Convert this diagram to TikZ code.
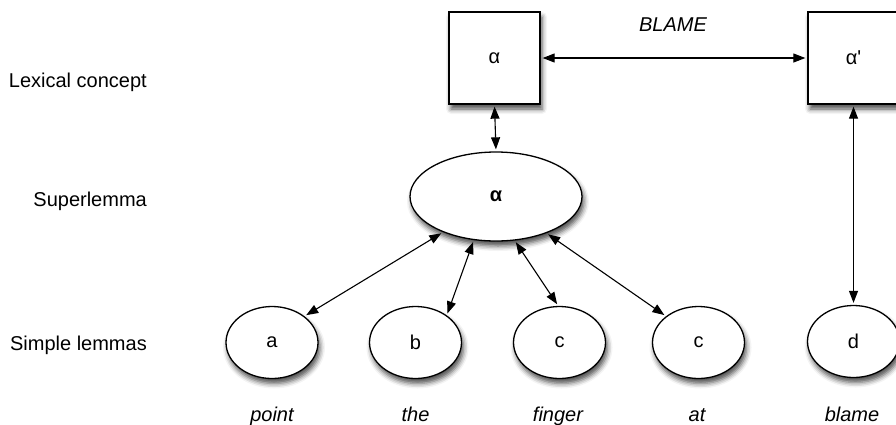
\documentclass[tikz,border=0pt]{standalone}
\usepackage{fontspec}
\setmainfont{Liberation Sans}
\usetikzlibrary{arrows.meta,shapes.geometric,shadows.blur}
\begin{document}
\begin{tikzpicture}[x=1pt,y=-1pt,
  every node/.style={font=\fontsize{20}{22}\selectfont, inner sep=0pt},
  shad/.style={blur shadow={shadow xshift=2pt, shadow yshift=-5pt, shadow blur radius=5pt, shadow opacity=70}},
  concept/.style={draw, line width=1.3pt, fill=white, minimum width=91pt, minimum height=92pt, shad},
  superl/.style={draw, ellipse, line width=1.3pt, fill=white, minimum width=172pt, minimum height=89pt, shad},
  lemma/.style={draw, ellipse, line width=1.3pt, fill=white, minimum width=92pt, minimum height=72pt, shad},
  rowlabel/.style={anchor=base east},
  word/.style={anchor=base, font=\fontsize{20}{22}\selectfont\itshape},
  link/.style={line width=1.1pt, {Triangle[length=12pt,width=9pt]}-{Triangle[length=12pt,width=9pt]}, shorten >=2pt, shorten <=2pt}
]
\useasboundingbox (0,0) rectangle (896,424);

% row labels
\node[rowlabel] (l1) at (147,87) {Lexical concept};
\node[rowlabel] (l2) at (147,206) {Superlemma};
\node[rowlabel] (l3) at (147,350) {Simple lemmas};

% concept nodes
\node[concept] (al) at (494.5,58) {α};
\node[concept] (ap) at (853.5,58) {α\textquotesingle};
\node (blame) at (673,25) {\itshape BLAME};

% superlemma
\node[superl] (sup) at (496,196.5) {\bfseries α};

% simple lemmas
\node[lemma] (a) at (272,342.5) {a};
\node[lemma] (b) at (415.5,342.5) {b};
\node[lemma] (c) at (559.5,342.5) {c};
\node[lemma] (c2) at (698.5,342.5) {c};
\node[lemma] (d) at (853.5,341.5) {d};

% words
\node[word] (w1) at (272,421) {point};
\node[word] (w2) at (415.5,421) {the};
\node[word] (w3) at (558,421) {finger};
\node[word] (w4) at (697,421) {at};
\node[word] (w5) at (852,421) {blame};

% connectors
\draw[link] (al.east) -- (ap.west);
\draw[link] (al.south) -- (sup.north);
\draw[link] (sup.214) -- (a.39);
\draw[link] (sup.243) -- (b.41);
\draw[link] (sup.293) -- (c.92);
\draw[link] (sup.324) -- (c2.141);
\draw[link] (ap.south) -- (d.north);
\end{tikzpicture}
\end{document}
